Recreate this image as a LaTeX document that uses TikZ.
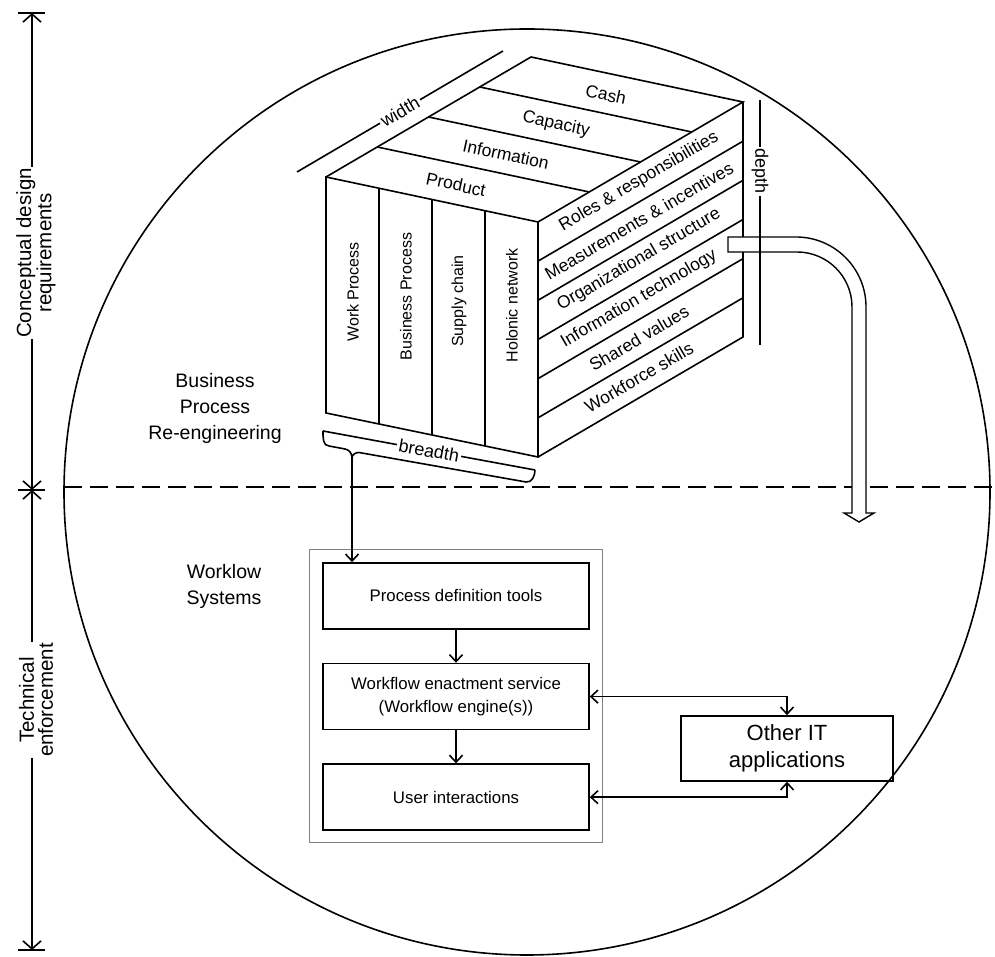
\documentclass[tikz,border=0pt]{standalone}
\usepackage{fontspec}
\setmainfont{Liberation Sans}
\usetikzlibrary{positioning, arrows.meta, calc}

\tikzset{
  box/.style={draw, line width=1.6pt, minimum width=266pt, minimum height=66pt, align=center, font=\fontsize{16.8}{23}\selectfont},
  arr/.style={-{Straight Barb[length=7pt, width=13pt]}},
  dblarr/.style={{Straight Barb[length=7pt, width=13pt]}-{Straight Barb[length=7pt, width=13pt]}},
  axarr/.style={{Straight Barb[length=8pt, width=18pt]}-{Straight Barb[length=8pt, width=18pt]}},
  cubelabel/.style={font=\fontsize{17.5}{20}\selectfont, inner sep=0pt},
  dimlabel/.style={font=\fontsize{18}{20}\selectfont, fill=white, inner sep=2pt},
  axlabel/.style={rotate=90, fill=white, align=center, inner sep=1pt, font=\fontsize{20.5}{19}\selectfont},
  biglabel/.style={align=center, font=\fontsize{19.5}{26}\selectfont}
}

\begin{document}
\begin{tikzpicture}[x=1pt, y=1pt, line width=1.6pt]
    \useasboundingbox (0,0) rectangle (995,957);

    % Circle and separator
    \draw (527,465) circle[radius=463];
    \draw[dash pattern=on 18pt off 8pt] (64,470) -- (995,470);

    % Left axis
    \coordinate (axTop) at (32,944);
    \coordinate (axMid) at (32,467);
    \coordinate (axBot) at (32,7);
    \draw[axarr] (axMid) -- (axTop);
    \draw[axarr] (axMid) -- (axBot);
    \foreach \c in {axTop, axMid, axBot}
        \draw ($(\c)+(-14,0)$) -- ($(\c)+(13,0)$);
    \node[axlabel] (cdr) at (36,704) {Conceptual design\\requirements};
    \node[axlabel] (tef) at (36,257) {Technical\\enforcement};

    % Cube
    \coordinate (ftl) at (326,780);
    \coordinate (ftr) at (538,735);
    \coordinate (fbl) at (326,544);
    \coordinate (fbr) at (538,500);
    \coordinate (btl) at ($(ftl)+(205,120)$);
    \coordinate (btr) at ($(ftr)+(205,120)$);
    \coordinate (bbr) at ($(fbr)+(205,120)$);
    \draw (ftl) -- (ftr) -- (fbr) -- (fbl) -- cycle;
    \draw (ftl) -- (btl) -- (btr) -- (ftr);
    \draw (btr) -- (bbr) -- (fbr);
    \foreach \i in {1,2,3} {
        \draw ($(ftl)!\i/4!(ftr)$) -- ($(fbl)!\i/4!(fbr)$);
        \draw ($(ftl)!\i/4!(btl)$) -- ($(ftr)!\i/4!(btr)$);
    }
    \foreach \i in {1,...,5}
        \draw ($(ftr)!\i/6!(fbr)$) -- ($(btr)!\i/6!(bbr)$);

    % Cube labels
    \foreach \t [count=\i] in {Work Process, Business Process, Supply chain, Holonic network}
        \node[cubelabel, rotate=90, font=\fontsize{16}{18}\selectfont] (col\i) at ({353+53*(\i-1)}, {665-4.5*(\i-1)}) {\t};
    \foreach \t [count=\i] in {Product, Information, Capacity, Cash}
        \node[cubelabel, rotate=-12] (top\i) at ({431+50*(\i-0.5)}, {757.5+30*(\i-0.5)}) {\t};
    \foreach \t [count=\i] in {Roles \& responsibilities, Measurements \& incentives, Organizational structure, Information technology, Shared values, Workforce skills}
        \node[cubelabel, rotate=30.35] (side\i) at (639, {795-39.17*(\i-0.5)}) {\t};

    % Width and breadth
    \draw (297,785) -- node[dimlabel, sloped] (wdt) {width} (503,906);
    \coordinate (brL) at (323,526);
    \coordinate (brR) at (535,487);
    \coordinate (cusp) at (352,499);
    \draw (brL) -- node[dimlabel, sloped] (brd) {breadth} (brR);
    \draw (brL) to[out=-90,in=180] (329,511) -- (345,508) to[out=-10,in=90] (cusp)
        to[out=90,in=180] (359,504.5) -- (526,475) to[out=-10,in=-90] (brR);

    % Bent hollow arrow
    \draw[fill=white, line width=1.4pt] (728,720) -- (796,720) arc[start angle=90, end angle=0, radius=70]
        -- (866,444) -- (874,444) -- (859,435) -- (844,444) -- (852,444) -- (852,650)
        arc[start angle=0, end angle=90, radius=55] -- (728,705) -- cycle;

    % Depth
    \draw (760,857) -- node[dimlabel, rotate=-90, pos=0.29] (dpt) {depth} (760,612);

    % Side texts
    \node[biglabel] (bpr) at (215,549) {Business\\Process\\Re-engineering};
    \node[biglabel] (wfs) at (224,370.5) {Worklow\\Systems};

    % Workflow system
    \draw[gray, line width=0.8pt] (309,408) rectangle (602,115);
    \node[box] (pdt) at (456,361) {Process definition tools};
    \node[box, below=33pt of pdt] (wes) {Workflow enactment service\\(Workflow engine(s))};
    \node[box, below=33pt of wes] (ui) {User interactions};
    \node[box, minimum width=212pt, minimum height=65pt, font=\fontsize{22}{27}\selectfont] (oit) at (787,208.5) {Other IT\\applications};

    \draw[arr] (cusp) -- (cusp |- pdt.north);
    \draw[arr] (pdt) -- (wes);
    \draw[arr] (wes) -- (ui);
    \draw[dblarr] (wes.east) -| (oit.north);
    \draw[dblarr] (ui.east) -| (oit.south);
\end{tikzpicture}
\end{document}
